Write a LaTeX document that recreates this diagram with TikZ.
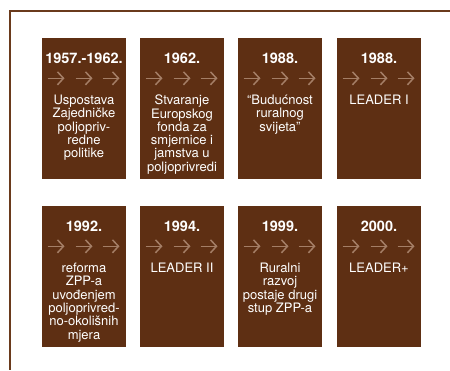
\documentclass[tikz,border=0pt]{standalone}
\usepackage{fontspec}
\setmainfont{TeX Gyre Heros}
\usetikzlibrary{arrows.meta}
\definecolor{boxbrown}{HTML}{5E2F13}
\definecolor{arrowbrown}{HTML}{A47E66}
\definecolor{framebrown}{HTML}{6A3A1C}

\begin{document}
\begin{tikzpicture}[x=1pt,y=-1pt,
    yearbox/.style={fill=boxbrown,minimum width=84pt,minimum height=141pt,inner sep=0pt},
    yeartext/.style={text=white,inner sep=0pt,font=\bfseries\fontsize{14.5}{16}\selectfont},
    desctext/.style={text=white,align=center,anchor=north,inner sep=0pt,font=\fontsize{13}{13.3}\selectfont},
    chevron/.style={draw=arrowbrown,line width=1.5pt,-{Straight Barb[length=6pt,width=13pt]}}]
      \useasboundingbox (0,0) rectangle (450,370);
      \draw[framebrown,line width=2pt] (450,11) -- (10,11) -- (10,370);
      % the eight boxes
      \foreach \n/\x/\y in {1/84/108.5,2/182/108.5,3/280/108.5,4/379/108.5,
                            5/84/276.5,6/182/276.5,7/280/276.5,8/379/276.5} {
        \node[yearbox] (box\n) at (\x,\y) {};
        \foreach \dx in {-28,0,27}
          \draw[chevron] ([xshift=\dx pt,yshift=-40.5pt]box\n.north) ++(-8.5,0) -- ++(17,0);
      }
      % years and texts
      \foreach \n/\yr/\txt in {1/{1957.-1962.}/{Uspostava\\Zajedničke\\poljopriv-\\redne\\politike},
                               2/{1962.}/{Stvaranje\\Europskog\\fonda za\\smjernice i\\jamstva u\\poljoprivredi},
                               3/{1988.}/{“Budućnost\\ruralnog\\svijeta”},
                               4/{1988.}/{LEADER I},
                               5/{1992.}/{reforma\\ZPP-a\\uvođenjem\\poljoprivred-\\no-okolišnih\\mjera},
                               6/{1994.}/{LEADER II},
                               7/{1999.}/{Ruralni\\razvoj\\postaje drugi\\stup ZPP-a},
                               8/{2000.}/{LEADER+}} {
        \node[yeartext] (year\n) at ([yshift=-21pt]box\n.north) {\yr};
        \node[desctext] (text\n) at ([yshift=-57pt]box\n.north) {\txt};
      }
\end{tikzpicture}
\end{document}
